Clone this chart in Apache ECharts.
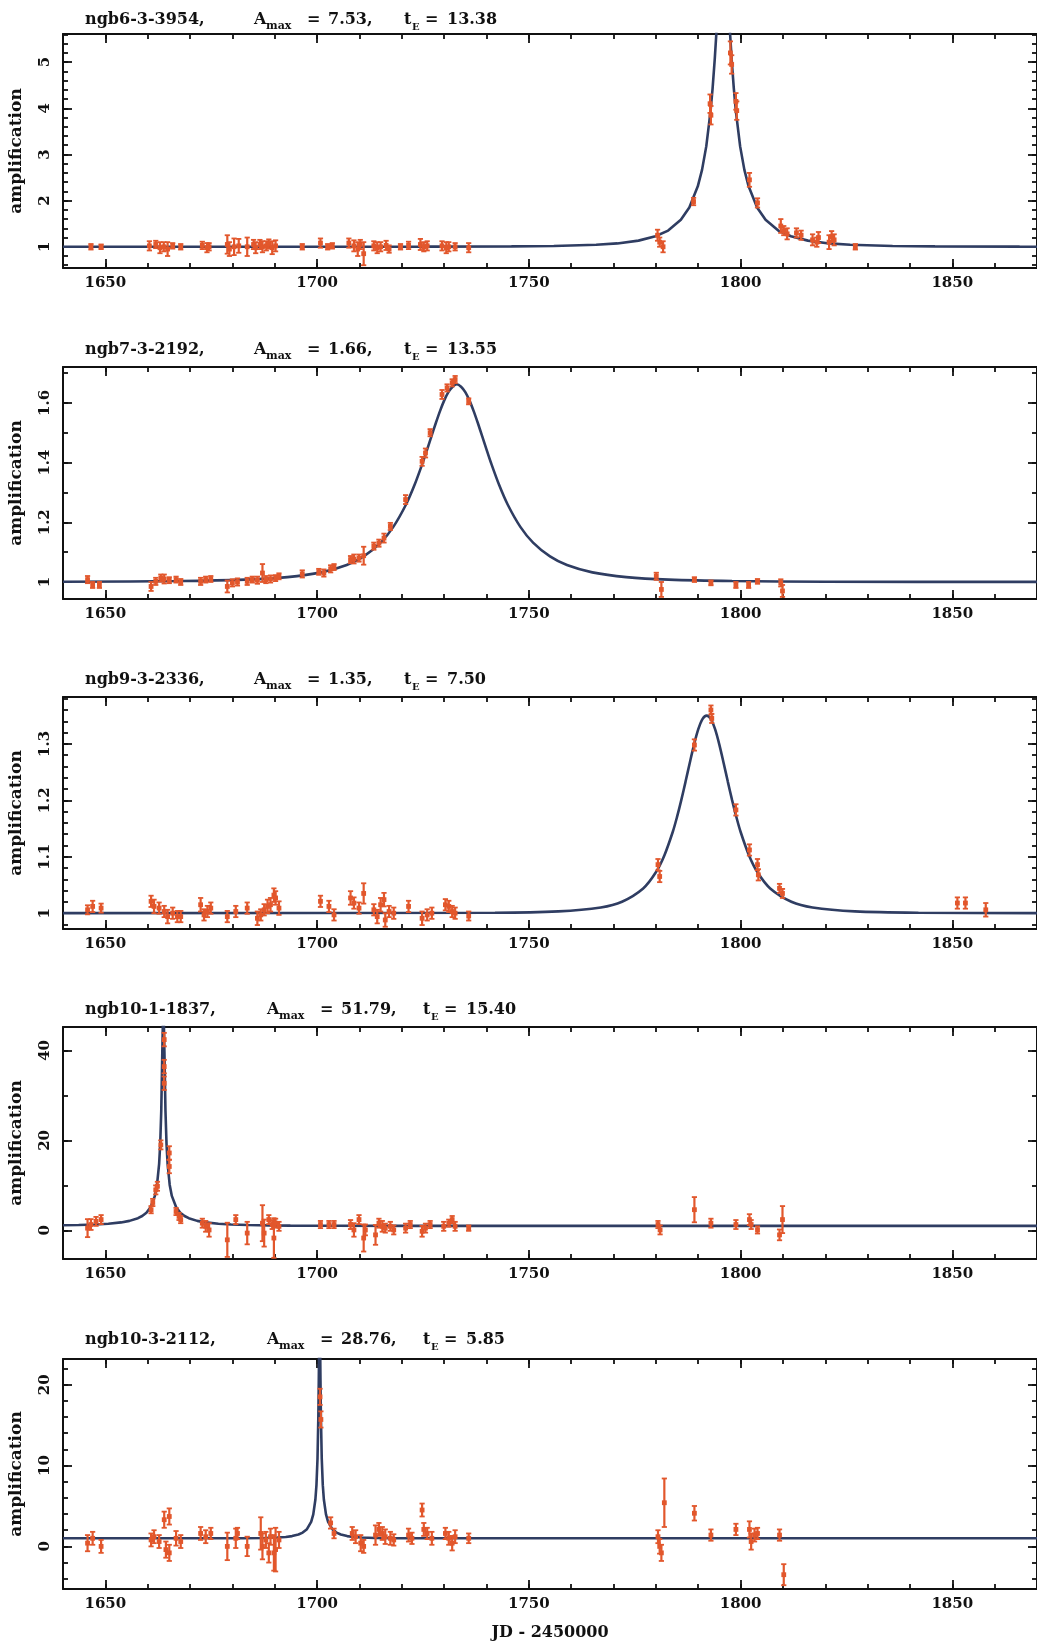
<!DOCTYPE html>
<html><head><meta charset="utf-8">
<script src="https://cdn.jsdelivr.net/npm/echarts@6/dist/echarts.min.js"></script>
<style>html,body{margin:0;padding:0;background:#fff}#c{width:1037px;height:1652px}</style>
</head><body><div id="c"></div>
<script>
// ---------- shared axis ticks ----------
const xTickLabels = [1650, 1700, 1750, 1800, 1850];
const xMinorTicks = [1640,1650,1660,1670,1680,1690,1700,1710,1720,1730,1740,1750,1760,1770,1780,1790,1800,1810,1820,1830,1840,1850,1860,1870];
const xTitle = 'JD - 2450000';
const yTitle = 'amplification';

// ---------- panel 1: ngb6-3-3954 ----------
const p1Label = ['ngb6-3-3954,', '7.53,', '13.38'];
const p1YLabels = [1, 2, 3, 4, 5];
const p1YMinor = [0.6,0.8,1,1.2,1.4,1.6,1.8,2,2.2,2.4,2.6,2.8,3,3.2,3.4,3.6,3.8,4,4.2,4.4,4.6,4.8,5,5.2,5.4,5.6];
const p1T = [1646.6,1649.0,1660.4,1661.9,1662.9,1663.8,1664.7,1665.9,1667.8,1672.9,1674.0,1674.5,1678.8,1679.3,1680.4,1681.5,1683.5,1685.0,1685.5,1686.5,1687.1,1688.0,1688.6,1689.4,1690.2,1696.5,1700.8,1702.5,1703.6,1707.5,1708.7,1709.6,1710.2,1711.0,1713.4,1714.2,1715.0,1716.3,1717.0,1719.7,1721.6,1724.4,1725.2,1726.0,1729.5,1730.5,1731.1,1732.6,1735.8,
  1780.4,1780.9,1781.7,1788.9,1792.8,1793.0,1797.6,1797.9,1798.9,1799.1,1802.1,1804.0,1809.5,1810.2,1811.0,1813.2,1814.3,1817.0,1818.0,1818.4,1820.9,1821.5,1822.1,1827.1];
const p1A = [1.0,1.0,1.02,1.05,0.98,1.0,0.95,1.02,1.0,1.03,0.98,1.0,1.05,0.95,1.0,1.02,1.0,1.05,0.98,1.05,1.0,1.02,1.06,0.98,1.02,1.0,1.08,1.0,1.02,1.08,1.02,0.95,1.05,0.85,1.02,0.98,1.0,1.03,0.95,1.0,1.03,1.05,1.0,1.02,1.02,0.98,1.0,1.0,0.98,
  1.25,1.1,1.0,1.98,4.1,3.85,5.2,4.95,4.15,3.95,2.45,1.95,1.45,1.35,1.28,1.3,1.25,1.15,1.1,1.2,1.1,1.22,1.15,1.0];
const p1E = [0.06,0.05,0.1,0.08,0.12,0.1,0.15,0.06,0.06,0.08,0.1,0.08,0.2,0.15,0.18,0.15,0.2,0.1,0.12,0.1,0.12,0.1,0.1,0.14,0.12,0.06,0.1,0.06,0.06,0.1,0.12,0.15,0.1,0.25,0.1,0.12,0.1,0.1,0.08,0.06,0.08,0.12,0.1,0.1,0.1,0.12,0.1,0.08,0.1,
  0.12,0.1,0.12,0.08,0.2,0.2,0.25,0.2,0.18,0.2,0.15,0.1,0.15,0.1,0.12,0.1,0.1,0.12,0.1,0.12,0.15,0.12,0.12,0.06];
const p1CurveT = [1640,1695.9,1725.9,1745.9,1755.9,1765.9,1770.9,1775.9,1779.9,1782.9,1785.9,1787.9,1789.9,1790.9,1791.9,1792.9,1793.4,1793.9,1794.4,1794.9,1795.4,1795.9,1796.4,1796.9,1797.4,1797.9,1798.4,1798.9,1799.9,1800.9,1801.9,1803.9,1805.9,1808.9,1811.9,1815.9,1820.9,1825.9,1835.9,1845.9,1865.9,1870];
const p1CurveA = [1.0001,1.0006,1.0023,1.0079,1.0171,1.0429,1.0727,1.1332,1.2276,1.3503,1.586,1.853,2.309,2.666,3.175,3.927,4.438,5.060,5.796,6.585,7.254,7.53,7.254,6.585,5.796,5.060,4.438,3.927,3.175,2.666,2.309,1.853,1.586,1.3503,1.2276,1.1332,1.0727,1.0429,1.0171,1.0079,1.0023,1.0019];

// ---------- panel 2: ngb7-3-2192 ----------
const p2Label = ['ngb7-3-2192,', '1.66,', '13.55'];
const p2YLabels = [1, 1.2, 1.4, 1.6];
const p2YMinor = [1,1.1,1.2,1.3,1.4,1.5,1.6,1.7];
const p2T = [1645.8,1647.0,1648.6,1660.8,1661.9,1663.1,1663.9,1665.1,1666.7,1667.8,1672.5,1673.7,1674.9,1678.8,1680.0,1681.2,1683.5,1684.7,1685.9,1687.1,1687.9,1689.0,1690.2,1691.0,1696.5,1700.4,1701.6,1703.2,1704.0,1707.9,1708.7,1709.9,1711.0,1713.4,1714.6,1715.8,1717.3,1720.9,1724.8,1725.6,1726.7,1729.5,1730.7,1731.9,1732.6,1735.8,
  1780.1,1781.3,1789.1,1793.0,1798.9,1801.9,1804.0,1809.5,1809.9];
const p2A = [1.008,0.99,0.99,0.985,1.002,1.013,1.01,1.006,1.008,1.0,1.002,1.008,1.01,0.985,0.997,1.0,1.002,1.008,1.006,1.03,1.008,1.01,1.013,1.019,1.027,1.034,1.03,1.044,1.05,1.075,1.077,1.08,1.088,1.12,1.13,1.147,1.186,1.276,1.404,1.432,1.5,1.628,1.65,1.667,1.678,1.605,
  1.019,0.975,1.008,0.997,0.99,0.99,1.002,0.997,0.97];
const p2E = [0.012,0.01,0.01,0.015,0.012,0.012,0.015,0.01,0.01,0.01,0.012,0.01,0.01,0.02,0.012,0.012,0.012,0.01,0.012,0.03,0.012,0.012,0.01,0.01,0.012,0.01,0.012,0.012,0.01,0.012,0.015,0.012,0.03,0.012,0.012,0.015,0.012,0.015,0.015,0.015,0.012,0.015,0.012,0.012,0.012,0.01,
  0.012,0.025,0.008,0.008,0.01,0.01,0.008,0.012,0.02];
const p2CurveT = [1640,1668,1683,1693,1701,1707,1711,1715,1718,1721,1723,1725,1726,1727,1728,1729,1730,1731,1732,1733,1734,1735,1736,1737,1738,1739,1740,1741,1743,1745,1748,1751,1755,1759,1765,1773,1783,1798,1820,1870];
const p2CurveA = [1.0008,1.0031,1.0078,1.0163,1.0321,1.0567,1.0855,1.1318,1.1846,1.2595,1.3245,1.4017,1.4440,1.4875,1.5307,1.5715,1.6074,1.6357,1.6539,1.662,1.6539,1.6357,1.6074,1.5715,1.5307,1.4875,1.4440,1.4017,1.3245,1.2595,1.1846,1.1318,1.0855,1.0567,1.0321,1.0163,1.0078,1.0031,1.0010,1.0002];

// ---------- panel 3: ngb9-3-2336 ----------
const p3Label = ['ngb9-3-2336,', '1.35,', '7.50'];
const p3YLabels = [1, 1.1, 1.2, 1.3];
const p3YMinor = [0.98,1,1.02,1.04,1.06,1.08,1.1,1.12,1.14,1.16,1.18,1.2,1.22,1.24,1.26,1.28,1.3,1.32,1.34,1.36,1.38];
const p3T = [1645.8,1647.0,1649.0,1660.8,1661.5,1662.7,1663.9,1664.7,1665.9,1667.0,1667.8,1672.5,1673.3,1674.1,1674.9,1678.8,1680.8,1683.5,1685.9,1686.7,1687.5,1688.3,1689.0,1689.8,1690.2,1691.0,1700.8,1702.8,1704.0,1707.9,1708.7,1709.9,1711.0,1713.4,1714.2,1715.0,1715.8,1716.1,1717.0,1718.1,1721.6,1724.8,1726.0,1727.1,1730.3,1731.1,1731.9,1732.6,1735.8,
  1780.5,1780.9,1789.1,1793.0,1793.2,1798.9,1802.1,1804.0,1804.2,1809.2,1809.9,1851.2,1853.1,1857.9];
const p3A = [1.006,1.012,1.009,1.021,1.012,1.009,1.003,0.994,1.0,0.994,0.994,1.015,0.997,1.003,1.009,0.994,1.003,1.009,0.991,0.997,1.006,1.012,1.015,1.032,1.027,1.009,1.021,1.012,0.997,1.027,1.018,1.009,1.035,1.006,0.994,1.015,1.024,0.988,1.003,1.0,1.012,0.991,0.997,1.0,1.015,1.012,1.003,1.0,0.995,
  1.086,1.065,1.298,1.360,1.345,1.183,1.112,1.086,1.068,1.044,1.035,1.018,1.018,1.006];
const p3E = [0.008,0.01,0.008,0.01,0.012,0.01,0.01,0.012,0.01,0.01,0.01,0.012,0.01,0.01,0.01,0.01,0.01,0.01,0.012,0.01,0.01,0.012,0.012,0.012,0.012,0.012,0.01,0.01,0.01,0.012,0.01,0.01,0.018,0.01,0.012,0.012,0.012,0.012,0.01,0.01,0.01,0.012,0.01,0.01,0.01,0.01,0.01,0.01,0.008,
  0.01,0.01,0.01,0.008,0.008,0.01,0.01,0.01,0.01,0.008,0.008,0.01,0.01,0.012];
const p3CurveT = [1640,1742,1757,1767,1772,1777,1780,1782,1784,1785,1786,1787,1788,1789,1790,1791,1792,1793,1794,1795,1796,1797,1798,1799,1800,1802,1804,1807,1812,1817,1827,1842,1870];
const p3CurveA = [1.0001,1.0009,1.0033,1.0102,1.0203,1.0438,1.0724,1.1023,1.1443,1.1706,1.2003,1.2327,1.2662,1.2983,1.3255,1.3439,1.350,1.3439,1.3255,1.2983,1.2662,1.2327,1.2003,1.1706,1.1443,1.1023,1.0724,1.0438,1.0203,1.0102,1.0033,1.0009,1.0002];

// ---------- panel 4: ngb10-1-1837 ----------
const p4Label = ['ngb10-1-1837,', '51.79,', '15.40'];
const p4YLabels = [0, 20, 40];
const p4YMinor = [0, 10, 20, 30, 40];
const p4T = [1645.8,1646.6,1647.8,1649.0,1660.8,1661.2,1661.9,1662.3,1663.1,1663.9,1663.9,1663.9,1665.1,1665.1,1666.7,1667.4,1667.8,1672.9,1673.7,1674.5,1678.8,1680.8,1683.5,1687.1,1687.5,1688.6,1689.4,1689.8,1690.2,1691.0,1700.8,1702.8,1704.0,1707.9,1708.7,1709.9,1711.0,1711.4,1713.8,1714.6,1715.4,1716.1,1717.3,1718.1,1720.9,1722.0,1724.8,1725.6,1726.7,1729.9,1731.1,1731.9,1732.6,1735.8,
  1780.5,1781.0,1789.1,1793.0,1798.9,1802.1,1802.5,1804.0,1809.2,1809.9];
const p4A = [0.5,1.3,2.0,2.4,4.6,6.2,9.0,9.8,19.0,42.4,36.4,32.7,17.2,14.2,4.2,3.1,2.4,1.6,0.9,0.1,-2.1,2.4,-0.6,1.6,-0.6,2.4,1.3,-1.7,1.6,0.9,1.3,1.3,1.3,1.3,0.1,2.4,-1.7,0.1,-1.0,1.6,0.9,0.5,0.9,0.1,0.5,1.3,-0.2,0.5,1.3,0.9,1.6,2.4,0.9,0.5,
  1.3,0.1,4.6,1.6,1.3,2.4,1.3,0.1,-1.0,2.4];
const p4E = [2.0,1.2,1.0,1.0,0.8,0.8,1.0,1.0,1.0,1.5,1.5,1.5,1.5,1.5,0.8,0.8,0.8,1.0,1.2,1.5,3.8,1.0,2.5,4.0,3.0,1.0,1.0,4.4,1.0,1.0,0.8,0.8,0.8,1.0,1.5,1.0,3.0,1.2,2.2,1.0,1.2,1.0,1.0,1.0,1.0,0.8,1.2,1.0,0.8,1.0,0.8,0.8,1.0,0.6,
  0.8,1.0,2.8,1.0,1.0,1.2,1.0,0.8,1.2,3.0];
const p4CurveT = [1640,1643.7,1647.7,1650.7,1653.7,1655.7,1657.7,1658.7,1659.7,1660.7,1661.7,1662.2,1662.7,1662.95,1663.2,1663.45,1663.7,1663.95,1664.2,1664.45,1664.7,1665.2,1665.7,1666.7,1667.7,1668.7,1669.7,1671.7,1673.7,1676.7,1679.7,1683.7,1688.7,1693.7,1703.7,1723.7,1763.7,1870];
const p4CurveA = [1.125,1.190,1.315,1.480,1.773,2.113,2.708,3.195,3.936,5.181,7.665,10.11,14.79,19.11,26.48,39.63,51.79,39.63,26.48,19.11,14.79,10.11,7.665,5.181,3.936,3.195,2.708,2.113,1.773,1.480,1.315,1.190,1.109,1.066,1.027,1.007,1.001,1.0];

// ---------- panel 5: ngb10-3-2112 ----------
const p5Label = ['ngb10-3-2112,', '28.76,', '5.85'];
const p5YLabels = [0, 10, 20];
const p5YMinor = [-4,-2,0,2,4,6,8,10,12,14,16,18,20,22];
const p5T = [1645.8,1647.0,1649.0,1660.8,1661.5,1662.7,1663.9,1664.3,1665.1,1665.1,1666.7,1667.8,1672.5,1673.7,1674.9,1678.8,1680.8,1681.2,1683.5,1686.7,1687.1,1687.9,1688.6,1689.0,1689.8,1690.2,1691.0,1700.7,1700.9,1703.2,1704.0,1708.3,1709.1,1710.3,1711.0,1713.8,1714.6,1715.4,1716.1,1717.3,1718.1,1721.6,1722.4,1724.8,1725.2,1726.0,1727.1,1730.3,1731.1,1731.9,1732.6,1735.8,
  1780.5,1780.9,1781.3,1782.0,1789.1,1793.0,1798.9,1802.1,1802.5,1803.3,1804.0,1809.2,1810.2];
const p5A = [0.4,1.0,0.0,0.8,1.2,0.6,3.3,-0.4,3.7,-0.8,1.0,0.6,1.6,1.2,1.6,0.0,1.0,1.6,0.0,1.6,0.0,0.8,-0.8,1.2,-0.8,-0.4,0.8,18.5,15.7,2.9,1.6,1.6,1.2,0.4,0.0,1.4,2.1,1.6,1.2,1.0,0.8,1.4,1.0,4.5,2.1,1.6,1.0,1.6,1.0,0.4,1.2,1.0,
  1.2,0.0,-0.8,5.4,4.1,1.4,2.1,2.1,0.6,1.4,1.6,1.4,-3.5];
const p5E = [1.0,0.8,0.8,0.8,0.8,0.8,1.0,1.0,1.0,1.0,0.9,0.8,0.8,0.8,0.7,1.7,1.2,0.7,1.2,2.0,1.6,1.0,1.2,1.0,2.2,2.7,1.0,1.0,1.0,0.7,0.6,0.8,0.8,1.0,0.8,1.2,0.8,0.8,0.9,0.8,0.7,0.8,0.7,0.8,0.8,0.7,0.8,0.7,0.8,0.9,0.8,0.6,
  0.8,0.9,1.0,3.0,0.9,0.7,0.7,1.0,1.0,0.8,0.7,0.7,1.3];
const p5CurveT = [1640,1660.6,1675.6,1682.6,1687.6,1690.6,1692.6,1694.1,1695.6,1696.6,1697.6,1698.6,1699.1,1699.6,1699.85,1700.1,1700.3,1700.4,1700.5,1700.6,1700.7,1700.8,1700.9,1701.1,1701.35,1701.6,1702.1,1702.6,1703.6,1704.6,1705.6,1707.1,1708.6,1710.6,1713.6,1718.6,1725.6,1740.6,1760.6,1870];
const p5CurveA = [1.0002,1.0008,1.0049,1.0156,1.0443,1.0944,1.1679,1.2721,1.4681,1.7057,2.1332,3.037,3.961,5.798,7.578,10.872,16.163,20.52,25.83,28.76,25.83,20.52,16.163,10.872,7.578,5.798,3.961,3.037,2.1332,1.7057,1.4681,1.2721,1.1679,1.0944,1.0443,1.0156,1.0049,1.0008,1.0002,1.0];

// ---------- layout / style ----------
const FONT = 'DejaVu Serif';
const INK = '#111111';
const PT = '#e2572c';
const CURVE = '#2f3d62';

const panels = [
  {lab:p1Label, t:p1T, a:p1A, e:p1E, ct:p1CurveT, ca:p1CurveA, yl:p1YLabels, ym:p1YMinor, ymin:0.54, ymax:5.61, top:34, h:234, tc:20, nameW:169, valW:76, smooth:false},
  {lab:p2Label, t:p2T, a:p2A, e:p2E, ct:p2CurveT, ca:p2CurveA, yl:p2YLabels, ym:p2YMinor, ymin:0.943, ymax:1.72, top:367, h:232, tc:350, nameW:169, valW:76, smooth:0.3},
  {lab:p3Label, t:p3T, a:p3A, e:p3E, ct:p3CurveT, ca:p3CurveA, yl:p3YLabels, ym:p3YMinor, ymin:0.972, ymax:1.383, top:697, h:232, tc:680, nameW:169, valW:76, smooth:0.3},
  {lab:p4Label, t:p4T, a:p4A, e:p4E, ct:p4CurveT, ca:p4CurveA, yl:p4YLabels, ym:p4YMinor, ymin:-6.36, ymax:45.2, top:1027, h:232, tc:1010, nameW:182, valW:82, smooth:false},
  {lab:p5Label, t:p5T, a:p5A, e:p5E, ct:p5CurveT, ca:p5CurveA, yl:p5YLabels, ym:p5YMinor, ymin:-5.27, ymax:23.18, top:1359, h:230, tc:1340, nameW:182, valW:82, smooth:false}
];

function renderErr(params, api) {
  const t = api.value(0), a = api.value(1), e = api.value(2);
  const c = api.coord([t, a]), hi = api.coord([t, a + e]), lo = api.coord([t, a - e]);
  const cw = 2.6;
  return {type:'group', children:[
    {type:'line', shape:{x1:c[0], y1:hi[1], x2:c[0], y2:lo[1]}, style:{stroke:PT, lineWidth:2.2}},
    {type:'line', shape:{x1:c[0]-cw, y1:hi[1], x2:c[0]+cw, y2:hi[1]}, style:{stroke:PT, lineWidth:1.8}},
    {type:'line', shape:{x1:c[0]-cw, y1:lo[1], x2:c[0]+cw, y2:lo[1]}, style:{stroke:PT, lineWidth:1.8}},
    {type:'rect', shape:{x:c[0]-2.4, y:c[1]-2.4, width:4.8, height:4.8}, style:{fill:PT}}
  ]};
}

const grid = [], xAxis = [], yAxis = [], series = [], title = [];
const labStyle = {fontFamily:FONT, fontWeight:'bold', fontSize:15, color:'#111'};
const plain = v => String(v);

function axisDef(i, pos, major, vals, min, max, extra) {
  const o = {
    type:'value', gridIndex:i, position:pos, min:min, max:max,
    axisLine: major ? {show:true, onZero:false, lineStyle:{color:INK, width:2}} : {show:false, onZero:false},
    splitLine:{show:false},
    axisTick:{show:true, inside:true, length: major ? 9 : 5, customValues: vals, lineStyle:{color:INK, width:1.8}},
    axisLabel:{show:false, customValues: vals},
    silent:true
  };
  return Object.assign(o, extra || {});
}

panels.forEach((p, i) => {
  grid.push({left:63, right:-2, top:p.top, height:p.h});
  xAxis.push(axisDef(i, 'bottom', true, xTickLabels, 1640, 1870, {
    axisLabel:Object.assign({show:true, customValues:xTickLabels, margin:8, formatter:plain}, labStyle),
    name: i === 4 ? xTitle : '', nameLocation:'middle', nameGap:36,
    nameTextStyle:Object.assign({}, labStyle, {fontSize:16})
  }));
  xAxis.push(axisDef(i, 'bottom', false, xMinorTicks, 1640, 1870));
  xAxis.push(axisDef(i, 'top', true, xTickLabels, 1640, 1870));
  xAxis.push(axisDef(i, 'top', false, xMinorTicks, 1640, 1870));
  yAxis.push(axisDef(i, 'left', true, p.yl, p.ymin, p.ymax, {
    axisLabel:Object.assign({show:true, customValues:p.yl, margin:10, rotate:90, formatter:plain}, labStyle),
    name: yTitle, nameLocation:'middle', nameRotate:90, nameGap:38,
    nameTextStyle:Object.assign({}, labStyle, {fontSize:17})
  }));
  yAxis.push(axisDef(i, 'left', false, p.ym, p.ymin, p.ymax));
  yAxis.push(axisDef(i, 'right', true, p.yl, p.ymin, p.ymax));
  yAxis.push(axisDef(i, 'right', false, p.ym, p.ymin, p.ymax));

  series.push({
    type:'line', xAxisIndex:i*4, yAxisIndex:i*4,
    data: p.ct.map((t, k) => [t, p.ca[k]]),
    showSymbol:false, symbol:'none', smooth:p.smooth, clip:true, silent:true, z:2,
    lineStyle:{color:CURVE, width:2.6}
  });
  series.push({
    type:'custom', xAxisIndex:i*4, yAxisIndex:i*4, clip:true, z:3, silent:true,
    data: p.t.map((t, k) => [t, p.a[k], p.e[k]]),
    renderItem: renderErr
  });

  const base = {fontFamily:FONT, fontWeight:'bold', fontSize:16, color:'#111', lineHeight:24, verticalAlign:'middle'};
  const sub = {fontFamily:FONT, fontWeight:'bold', color:'#111', lineHeight:14, verticalAlign:'bottom'};
  title.push({
    left:85, top:p.tc - 12, padding:0,
    text:'{n|' + p.lab[0] + '}{A|A}{s|max}{q|=}{v|' + p.lab[1] + '}{t|t}{e|E}{r|=}{w|' + p.lab[2] + '}',
    textStyle:{rich:{
      n:Object.assign({}, base, {width:p.nameW}),
      A:Object.assign({}, base, {width:12}),
      s:Object.assign({}, sub, {fontSize:11, width:41}),
      q:Object.assign({}, base, {width:21}),
      v:Object.assign({}, base, {width:p.valW}),
      t:Object.assign({}, base, {width:8}),
      e:Object.assign({}, sub, {fontSize:10, width:13}),
      r:Object.assign({}, base, {width:22}),
      w:Object.assign({}, base)
    }}
  });
});

const chart = echarts.init(document.getElementById('c'), null, {renderer:'canvas'});
chart.setOption({
  backgroundColor:'#ffffff',
  animation:false,
  title:title, grid:grid, xAxis:xAxis, yAxis:yAxis, series:series
});
</script>
</body></html>
